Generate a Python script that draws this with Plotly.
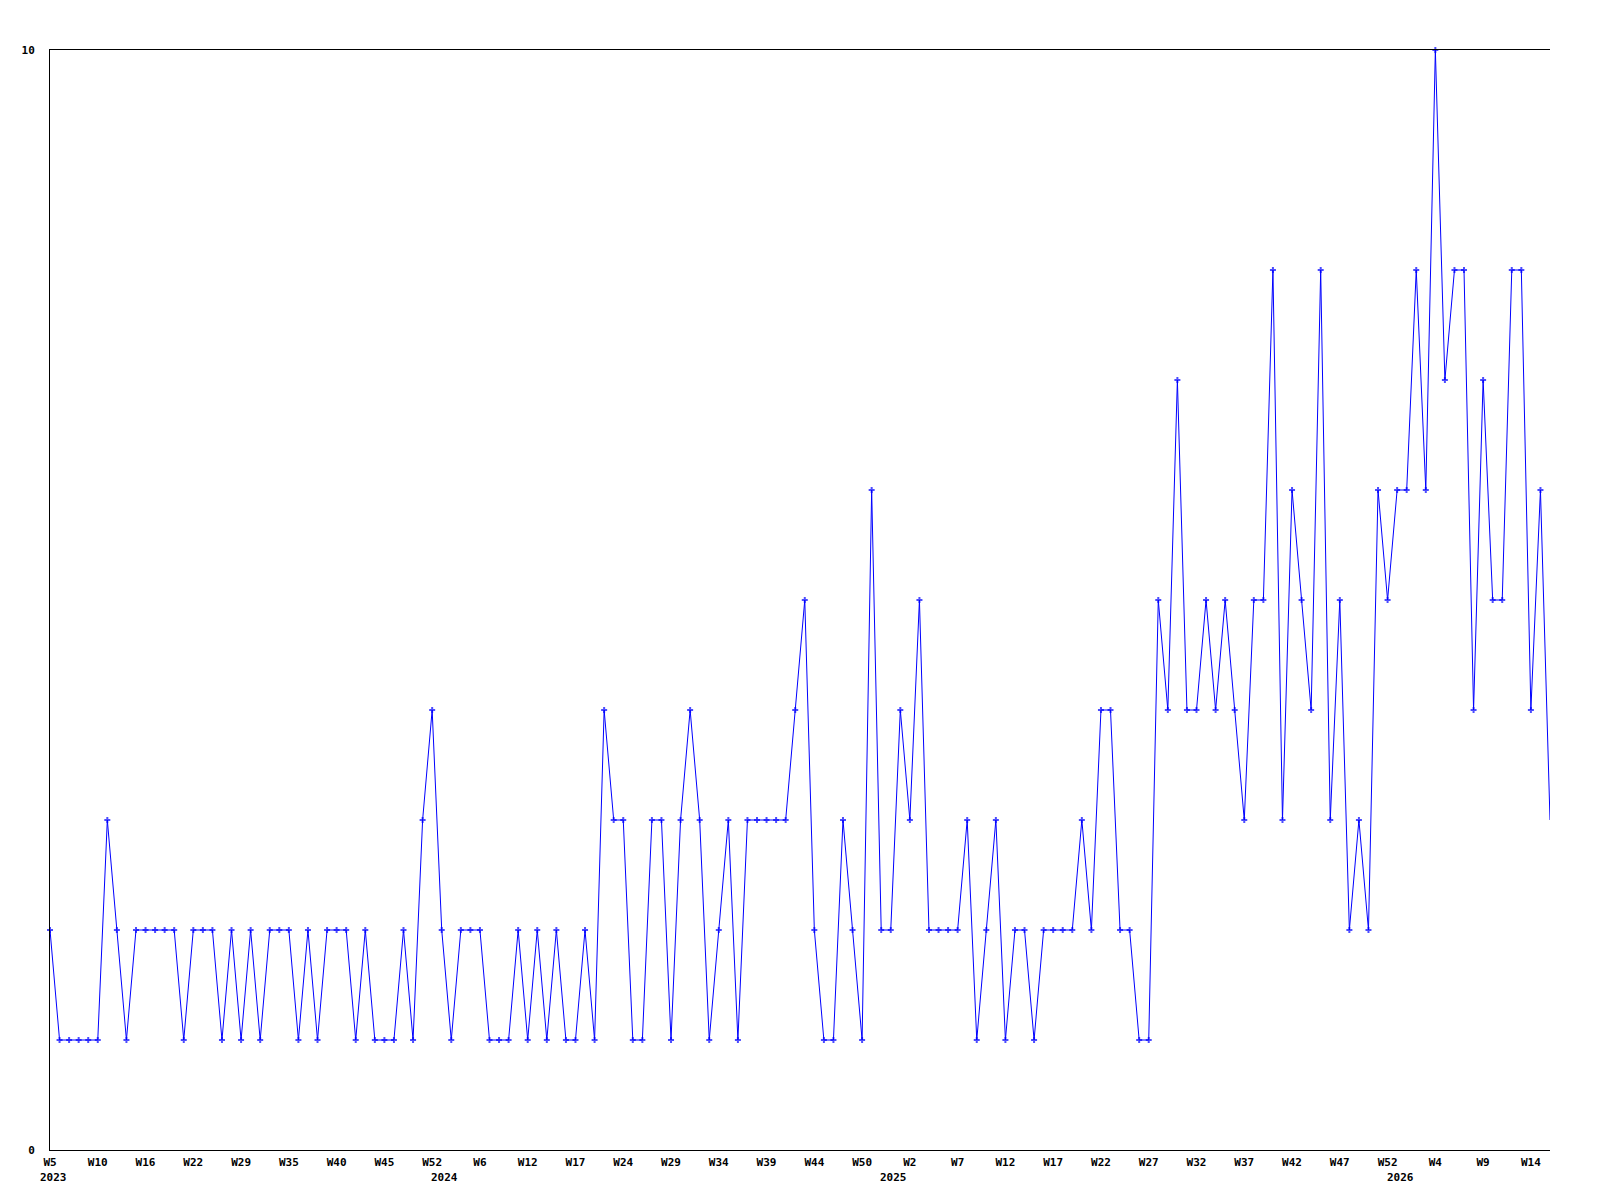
import plotly.graph_objects as go

# Weekly counts (one point per reported week, in order)
values = [
    2, 1, 1, 1, 1, 1, 3, 2, 1, 2, 2, 2, 2, 2, 1, 2, 2, 2, 1, 2, 1,
    2, 1, 2, 2, 2, 1, 2, 1, 2, 2, 2, 1, 2, 1, 1, 1, 2, 1, 3,
    4, 2, 1, 2, 2, 2, 1, 1, 1, 2, 1, 2, 1, 2, 1, 1, 2, 1, 4, 3,
    3, 1, 1, 3, 3, 1, 3, 4, 3, 1, 2, 3, 1, 3, 3, 3, 3, 3, 4, 5,
    2, 1, 1, 3, 2, 1, 6, 2, 2, 4, 3, 5, 2, 2, 2, 2, 3, 1, 2, 3,
    1, 2, 2, 1, 2, 2, 2, 2, 3, 2, 4, 4, 2, 2, 1, 1, 5, 4, 7, 4,
    4, 5, 4, 5, 4, 3, 5, 5, 8, 3, 6, 5, 4, 8, 3, 5, 2, 3, 2, 6,
    5, 6, 6, 8, 6, 10, 7, 8, 8, 4, 7, 5, 5, 8, 8, 4, 6, 3,
]

# Week tick labels, shown on every 5th point
tick_labels = [
    "W5", "W10", "W16", "W22", "W29", "W35", "W40", "W45", "W52",
    "W6", "W12", "W17", "W24", "W29", "W34", "W39", "W44", "W50",
    "W2", "W7", "W12", "W17", "W22", "W27", "W32", "W37", "W42", "W47", "W52",
    "W4", "W9", "W14",
]
tick_step = 5

# Year labels and the point index where each year begins
year_labels = ["2023", "2024", "2025", "2026"]
year_start_idx = [0.4, 41.3, 88.3, 141.4]

n = len(values)
x = list(range(n))
tickvals = [i * tick_step for i in range(len(tick_labels))]

font = dict(family="DejaVu Sans Mono", size=11, color="black", weight="bold")

marker_sizes = [5] * n
marker_sizes[-1] = 0

fig = go.Figure()
fig.add_trace(go.Scatter(
    x=x, y=values, mode="lines+markers",
    line=dict(color="#0000ff", width=1),
    marker=dict(symbol="cross", size=marker_sizes, color="#0000ff", line=dict(width=0)),
    cliponaxis=False,
    hoverinfo="skip",
))

for lbl, xi in zip(year_labels, year_start_idx):
    fig.add_annotation(
        x=xi, xref="x", y=-27 / 1100, yref="paper",
        text=lbl, showarrow=False, xanchor="center", yanchor="middle",
        font=font,
    )

# page body adds an 8px offset; margins compensate so the plot box sits at 50..1550 x 50..1150
fig.update_layout(
    width=1600, height=1200,
    margin=dict(l=42, r=58, t=42, b=58, pad=0),
    plot_bgcolor="white", paper_bgcolor="white",
    showlegend=False,
    font=font,
)
fig.update_xaxes(
    range=[0, n - 1],
    tickmode="array", tickvals=tickvals, ticktext=tick_labels,
    showgrid=False, zeroline=False,
    showline=True, linecolor="black", linewidth=1, mirror=True,
    ticks="", tickfont=font, ticklabelstandoff=2,
)
fig.update_yaxes(
    range=[0, 10],
    tickmode="array", tickvals=[0, 10], ticktext=["0", "10"],
    showgrid=False, zeroline=False,
    showline=True, linecolor="black", linewidth=1, mirror=False,
    ticks="", tickfont=font, ticklabelstandoff=12,
)

fig.write_html("out.html", config={"displayModeBar": False})
